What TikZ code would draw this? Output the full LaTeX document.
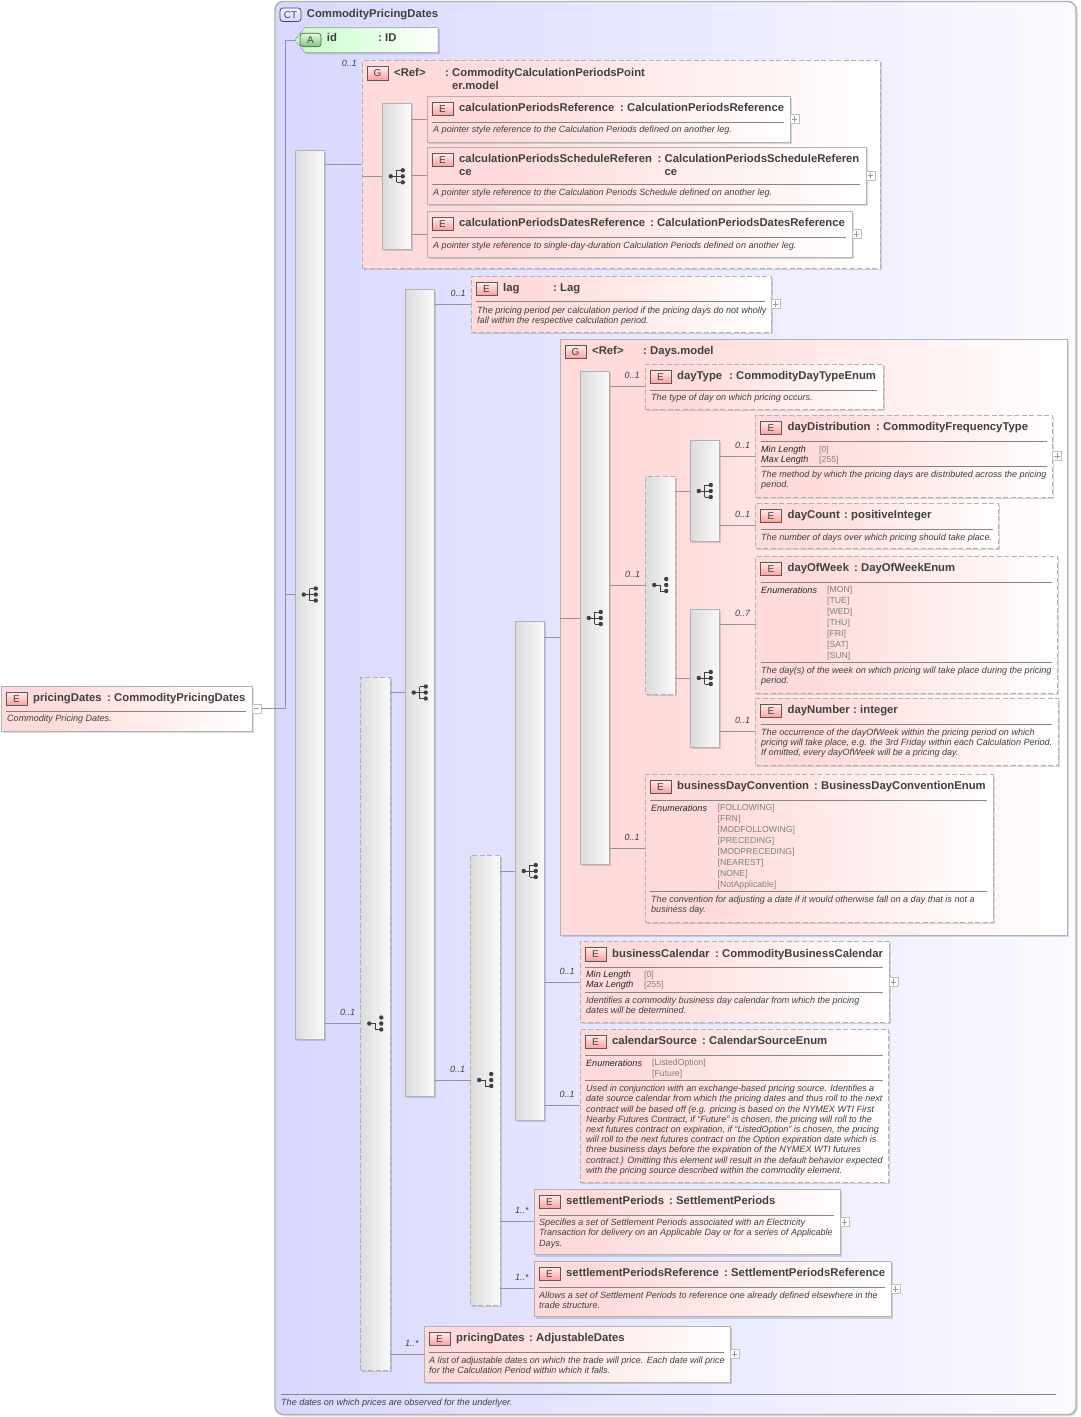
\documentclass[tikz,border=0pt]{standalone}
\usepackage{fontspec}
\setmainfont{Liberation Sans}
\usetikzlibrary{shadows}
\definecolor{ctblue}{RGB}{216,216,255}
\definecolor{ctpale}{RGB}{250,250,255}
\definecolor{ctedge}{RGB}{70,70,120}
\definecolor{elempink}{RGB}{255,218,218}
\definecolor{attrgreen}{RGB}{196,255,196}
\definecolor{inktext}{RGB}{64,64,64}
\definecolor{edgegray}{RGB}{178,178,178}
\pgfdeclarehorizontalshading{elemfade}{100bp}{color(0bp)=(elempink); color(34bp)=(elempink); color(76bp)=(white); color(100bp)=(white)}
\newcommand{\lns}[1]{\begin{tabular}[t]{@{}l@{}}#1\end{tabular}}
\newcommand{\headline}[7]{%
\node [badge] (#1b) at ({#3+5},{#4+6}) {#2};
\node [title] (#1n) at ({#3+32},{#4+15.5}) {\lns{#5}};
\node [title] (#1c) at (#6,{#4+15.5}) {:};
\node [title] (#1t) at ({#6+7},{#4+15.5}) {\lns{#7}};}
\newcommand{\elem}[8][]{%
\node [ebox,#1,minimum width=#5pt,minimum height=#6pt] (#2) at (#3,#4) {};
\headline{#2}{E}{#3}{#4}{#7}{#8}}
\newcommand{\sepl}[2]{\draw [sepline] (#1.west |- 0,#2) -- (#1.east |- 0,#2);}
\begin{document}
\begin{tikzpicture}[x=1pt,y=-1pt,
  softshadow/.style={drop shadow={shadow xshift=1.8pt,shadow yshift=-1.8pt,fill=black,opacity=0.14}},
  ebox/.style={shape=rectangle,anchor=north west,inner sep=0pt,outer sep=0pt,draw=edgegray,line width=1pt,shading=elemfade,softshadow},
  dashy/.style={dash pattern=on 5pt off 2.5pt},
  bar/.style={shape=rectangle,anchor=north west,inner sep=0pt,outer sep=0pt,minimum width=29.5pt,draw=edgegray,line width=1pt,left color=black!14,right color=black!2,softshadow},
  badge/.style={shape=rectangle,anchor=north west,inner sep=0pt,outer sep=0pt,minimum width=21pt,minimum height=13.5pt,draw=black!65,line width=0.7pt,top color=elempink!50,bottom color=red!38,text=inktext,font=\fontsize{10}{10}\selectfont},
  title/.style={anchor=base west,inner sep=0pt,align=left,text=inktext,font=\fontsize{11.3}{13}\selectfont\bfseries},
  doc/.style={anchor=base west,inner sep=0pt,align=left,text=inktext,font=\fontsize{9.05}{10.2}\selectfont\itshape},
  facet/.style={anchor=base west,inner sep=0pt,align=left,text=black!85,font=\fontsize{9.05}{10}\selectfont\itshape},
  facetv/.style={anchor=base west,inner sep=0pt,align=left,text=black!50,font=\fontsize{8.7}{10}\selectfont},
  enumv/.style={anchor=base west,inner sep=0pt,align=left,text=black!50,font=\fontsize{8.7}{11}\selectfont},
  card/.style={anchor=base east,inner sep=0pt,xshift=-5pt,yshift=8pt,text=inktext,font=\fontsize{9}{10}\selectfont\itshape},
  conn/.style={draw=black!42,line width=0.8pt},
  sepline/.style={draw=black!48,line width=0.9pt,shorten <=5pt,shorten >=6pt},
  fold/.style={shape=rectangle,anchor=west,inner sep=0pt,outer sep=0pt,minimum width=9pt,minimum height=9pt,draw=black!25,fill=white,line width=0.7pt},
  plusmark/.style={fold,path picture={\draw [black!40,line width=0.6pt,shorten <=1.8pt,shorten >=1.8pt] (path picture bounding box.west) -- (path picture bounding box.east); \draw [black!40,line width=0.6pt,shorten <=1.8pt,shorten >=1.8pt] (path picture bounding box.north) -- (path picture bounding box.south);}},
  minusmark/.style={fold,path picture={\draw [black!40,line width=0.6pt,shorten <=1.8pt,shorten >=1.8pt] (path picture bounding box.west) -- (path picture bounding box.east);}},
  seqicon/.pic={\draw [black!75,line width=0.8pt] (-6,0) -- (0,0) (0,-6) -- (0,6) (0,-6) -- (6,-6) (0,0) -- (6,0) (0,6) -- (6,6);
    \fill [black!75] (-6,0) circle (2.2) (6,-6) circle (2.2) (6,0) circle (2.2) (6,6) circle (2.2);},
  choiceicon/.pic={\draw [black!75,line width=0.8pt] (-6,0) -- (0,0) -- (0,6) -- (6,6);
    \fill [black!75] (-6,0) circle (2.2) (6,-6) circle (2.2) (6,0) circle (2.2) (6,6) circle (2.2);}]
\useasboundingbox (0,0) rectangle (1080,1417);
% outer type box
\node [shape=rectangle,anchor=north west,inner sep=0pt,outer sep=0pt,minimum width=801pt,minimum height=1413pt,rounded corners=8pt,draw=edgegray,line width=1.4pt,left color=ctblue,right color=ctpale,softshadow] (ct) at (275,1.5) {};
\node [shape=rectangle,anchor=north west,inner sep=0pt,outer sep=0pt,minimum width=21pt,minimum height=13.5pt,rounded corners=3pt,draw=ctedge,line width=0.8pt,top color=ctblue!40,bottom color=ctblue,text=ctedge,font=\fontsize{10}{10}\selectfont] (ctb) at (280,8) {CT};
\node [title] (ctn) at (306.7,17) {CommodityPricingDates};
\draw [sepline,shorten <=6pt,shorten >=20pt] (ct.west |- 0,1394.3) -- (ct.east |- 0,1394.3);
\node [doc] (ctd) at (281,1405) {The dates on which prices are observed for the underlyer.};
%
% root element
\elem{root}{1}{686}{251}{45}{pricingDates}{107}{CommodityPricingDates}
\sepl{root}{711.3}
\node [doc] (rootd) at (7,721.7) {Commodity Pricing Dates.};
\node [minusmark] (rootf) at (root.east) {};
%
% attribute
\filldraw [draw=edgegray,line width=1pt,dashy,left color=attrgreen,right color=white,drop shadow={shadow xshift=1.8pt,shadow yshift=-1.8pt,fill=black,opacity=0.14}] (295,40) -- (305,27.5) -- (438,27.5) -- (438,52.5) -- (305,52.5) -- cycle;
\coordinate (idtip) at (295,40);
\node [shape=rectangle,anchor=north west,inner sep=0pt,outer sep=0pt,minimum width=21pt,minimum height=13.5pt,rounded corners=3pt,draw=black!65,line width=0.7pt,top color=attrgreen!50,bottom color=green!50!black!50,text=inktext,font=\fontsize{10}{10}\selectfont] (idb) at (300,33.3) {A};
\node [title] (idn) at (326.7,41.7) {id};
\node [title] (idc) at (378,41.7) {:};
\node [title] (idt) at (385,41.7) {ID};
%
% compositors
\node [bar,minimum height=889pt] (barouter) at (295,150) {};
\node [bar,dashy,minimum height=693pt] (barchoice) at (360.5,677) {};
\node [bar,minimum height=807pt] (barlag) at (405,289) {};
\node [bar,dashy,minimum height=450pt] (barperiods) at (470.5,855) {};
\node [bar,minimum height=499pt] (barcal) at (515,621.5) {};
\pic at (barouter.center) {seqicon};
\pic at (barchoice.center) {choiceicon};
\pic at (barlag.center) {seqicon};
\pic at (barperiods.center) {choiceicon};
\pic at (barcal.center) {seqicon};
%
% first group
\node [ebox,dashy,minimum width=518pt,minimum height=208pt] (refa) at (362,60.5) {};
\headline{refa}{G}{362}{60.5}{<Ref>}{445}{CommodityCalculationPeriodsPoint\\er.model}
\node [bar,minimum height=146pt] (barref) at (382,103.3) {};
\pic at (barref.center) {seqicon};
\elem{calcref}{427}{96}{363}{46}{calculationPeriodsReference}{620}{CalculationPeriodsReference}
\sepl{calcref}{122.3}
\node [doc] (calcrefd) at (433,132.7) {A pointer style reference to the Calculation Periods defined on another leg.};
\elem{schedref}{427}{147}{439}{57}{calculationPeriodsScheduleReferen\\ce}{657.5}{CalculationPeriodsScheduleReferen\\ce}
\sepl{schedref}{184.3}
\node [doc] (schedrefd) at (433,195) {A pointer style reference to the Calculation Periods Schedule defined on another leg.};
\elem{datesref}{427}{211}{425}{46}{calculationPeriodsDatesReference}{650}{CalculationPeriodsDatesReference}
\sepl{datesref}{237.3}
\node [doc] (datesrefd) at (433,248.3) {A pointer style reference to single-day-duration Calculation Periods defined on another leg.};
%
\elem[dashy]{lag}{471}{276}{300}{56}{lag}{553}{Lag}
\sepl{lag}{301.5}
\node [doc] (lagd) at (477,313) {\lns{The pricing period per calculation period if the pricing days do not wholly\\fall within the respective calculation period.}};
%
% second group
\node [ebox,minimum width=507pt,minimum height=596pt] (refb) at (560,339) {};
\headline{refb}{G}{560}{339}{<Ref>}{643}{Days.model}
\node [bar,minimum height=493pt] (bardays) at (580,371.5) {};
\node [bar,dashy,minimum height=218pt] (barweek) at (645.5,476) {};
\node [bar,minimum height=101pt] (bardist) at (690,440.5) {};
\node [bar,minimum height=138pt] (barnum) at (690,609) {};
\pic at (bardays.center) {seqicon};
\pic at (barweek.center) {choiceicon};
\pic at (bardist.center) {seqicon};
\pic at (barnum.center) {seqicon};
\elem[dashy]{daytype}{645}{364}{238}{45.5}{dayType}{729}{CommodityDayTypeEnum}
\sepl{daytype}{390.3}
\node [doc] (daytyped) at (651,400.7) {The type of day on which pricing occurs.};
\elem[dashy]{daydist}{755.5}{415}{297}{82}{dayDistribution}{876}{CommodityFrequencyType}
\sepl{daydist}{441}
\node [facet] (daydistl) at (761,452.5) {\lns{Min Length\\Max Length}};
\node [facetv] (daydistv) at (819,452.5) {\lns{{[0]}\\{[255]}}};
\sepl{daydist}{466.3}
\node [doc] (daydistd) at (761,477) {\lns{The method by which the pricing days are distributed across the pricing\\period.}};
\elem[dashy]{daycount}{755.5}{503}{243}{45}{dayCount}{844}{positiveInteger}
\sepl{daycount}{529}
\node [doc] (daycountd) at (761,540) {The number of days over which pricing should take place.};
\elem[dashy]{dayweek}{755.5}{556}{302}{137}{dayOfWeek}{854}{DayOfWeekEnum}
\sepl{dayweek}{582}
\node [facet] (dayweekl) at (761,593) {Enumerations};
\node [enumv] (dayweekv) at (827,592.6) {\lns{{[MON]}\\{[TUE]}\\{[WED]}\\{[THU]}\\{[FRI]}\\{[SAT]}\\{[SUN]}}};
\sepl{dayweek}{662}
\node [doc] (dayweekd) at (761,673.3) {\lns{The day(s) of the week on which pricing will take place during the pricing\\period.}};
\elem[dashy]{daynum}{755.5}{698}{302.5}{67}{dayNumber}{853}{integer}
\sepl{daynum}{724}
\node [doc] (daynumd) at (761,735) {\lns{The occurrence of the dayOfWeek within the pricing period on which\\pricing will take place, e.g. the 3rd Friday within each Calculation Period.\\If omitted, every dayOfWeek will be a pricing day.}};
\elem[dashy]{bdc}{645}{774}{348}{148.5}{businessDayConvention}{814}{BusinessDayConventionEnum}
\sepl{bdc}{800}
\node [facet] (bdcl) at (651,811) {Enumerations};
\node [enumv] (bdcv) at (717.5,810.5) {\lns{{[FOLLOWING]}\\{[FRN]}\\{[MODFOLLOWING]}\\{[PRECEDING]}\\{[MODPRECEDING]}\\{[NEAREST]}\\{[NONE]}\\{[NotApplicable]}}};
\sepl{bdc}{891}
\node [doc] (bdcd) at (651,902) {\lns{The convention for adjusting a date if it would otherwise fall on a day that is not a\\business day.}};
%
% elements below the second group
\elem[dashy]{bizcal}{580}{941.5}{309}{81}{businessCalendar}{715}{CommodityBusinessCalendar}
\sepl{bizcal}{967}
\node [facet] (bizcall) at (586,977.7) {\lns{Min Length\\Max Length}};
\node [facetv] (bizcalv) at (644,977.7) {\lns{{[0]}\\{[255]}}};
\sepl{bizcal}{992}
\node [doc] (bizcald) at (586,1003) {\lns{Identifies a commodity business day calendar from which the pricing\\dates will be determined.}};
\elem[dashy]{calsrc}{580}{1029}{308.5}{153.5}{calendarSource}{702}{CalendarSourceEnum}
\sepl{calsrc}{1055}
\node [facet] (calsrcl) at (586,1066) {Enumerations};
\node [enumv] (calsrcv) at (652,1065.5) {\lns{{[ListedOption]}\\{[Future]}}};
\sepl{calsrc}{1080.3}
\node [doc] (calsrcd) at (586,1091.7) {\lns{Used in conjunction with an exchange-based pricing source. Identifies a\\date source calendar from which the pricing dates and thus roll to the next\\contract will be based off (e.g. pricing is based on the NYMEX WTI First\\Nearby Futures Contract, if “Future” is chosen, the pricing will roll to the\\next futures contract on expiration, if “ListedOption” is chosen, the pricing\\will roll to the next futures contract on the Option expiration date which is\\three business days before the expiration of the NYMEX WTI futures\\contract.) Omitting this element will result in the default behavior expected\\with the pricing source described within the commodity element.}};
\elem{setper}{534}{1189}{306}{65.7}{settlementPeriods}{669}{SettlementPeriods}
\sepl{setper}{1215.3}
\node [doc] (setperd) at (539,1225.7) {\lns{Specifies a set of Settlement Periods associated with an Electricity\\Transaction for delivery on an Applicable Day or for a series of Applicable\\Days.}};
\elem{setref}{534}{1261}{357}{55.7}{settlementPeriodsReference}{724}{SettlementPeriodsReference}
\sepl{setref}{1287.3}
\node [doc] (setrefd) at (539,1298) {\lns{Allows a set of Settlement Periods to reference one already defined elsewhere in the\\trade structure.}};
\elem{pricedates}{424}{1326}{306}{56}{pricingDates}{529}{AdjustableDates}
\sepl{pricedates}{1352.3}
\node [doc] (pricedatesd) at (429,1363) {\lns{A list of adjustable dates on which the trade will price. Each date will price\\for the Calculation Period within which it falls.}};
%
% fold marks
\foreach \target in {calcref,schedref,datesref,lag,daydist,bizcal,setper,setref,pricedates}
  \node [plusmark] (\target f) at (\target.east) {};
%
% connectors
\coordinate (trunk) at (285.5,708.5);
\draw [conn] (rootf.east) -- (trunk) -- (trunk |- idtip) -- (idtip);
\draw [conn] (trunk |- barouter.west) -- (barouter.west);
\draw [conn] (barouter.east |- refa.west) -- (refa.west);
\node [card,xshift=5pt,yshift=-8pt] (cardrefa) at (357,66.7) {0..1};
\draw [conn] (refa.west |- barref.west) -- (barref.west);
\draw [conn] (barref.east |- calcref.west) -- (calcref.west);
\draw [conn] (barref.east |- schedref.west) -- (schedref.west);
\draw [conn] (barref.east |- datesref.west) -- (datesref.west);
\draw [conn] (barouter.east |- barchoice.west) -- (barchoice.west) node [card] (cardchoice) {0..1};
\draw [conn] (barchoice.east |- barlag.west) -- (barlag.west);
\draw [conn] (barchoice.east |- pricedates.west) -- (pricedates.west) node [card] (cardprice) {1..*};
\draw [conn] (barlag.east |- lag.west) -- (lag.west) node [card] (cardlag) {0..1};
\draw [conn] (barlag.east |- barperiods.west) -- (barperiods.west) node [card] (cardperiods) {0..1};
\draw [conn] (barperiods.east |- barcal.west) -- (barcal.west);
\draw [conn] (barperiods.east |- setper.west) -- (setper.west) node [card] (cardsetper) {1..*};
\draw [conn] (barperiods.east |- setref.west) -- (setref.west) node [card] (cardsetref) {1..*};
\draw [conn] (barcal.east |- refb.west) -- (refb.west);
\draw [conn] (barcal.east |- bizcal.west) -- (bizcal.west) node [card] (cardbizcal) {0..1};
\draw [conn] (barcal.east |- calsrc.west) -- (calsrc.west) node [card] (cardcalsrc) {0..1};
\draw [conn] (refb.west |- bardays.west) -- (bardays.west);
\draw [conn] (bardays.east |- daytype.west) -- (daytype.west) node [card] (carddaytype) {0..1};
\draw [conn] (bardays.east |- barweek.west) -- (barweek.west) node [card] (cardweek) {0..1};
\draw [conn] (bardays.east |- bdc.west) -- (bdc.west) node [card] (cardbdc) {0..1};
\draw [conn] (barweek.east |- bardist.west) -- (bardist.west);
\draw [conn] (barweek.east |- barnum.west) -- (barnum.west);
\draw [conn] (bardist.east |- daydist.west) -- (daydist.west) node [card] (carddist) {0..1};
\draw [conn] (bardist.east |- daycount.west) -- (daycount.west) node [card] (cardcount) {0..1};
\draw [conn] (barnum.east |- dayweek.west) -- (dayweek.west) node [card] (carddayweek) {0..7};
\draw [conn] (barnum.east |- daynum.west) -- (daynum.west) node [card] (carddaynum) {0..1};
%
\end{tikzpicture}
\end{document}
